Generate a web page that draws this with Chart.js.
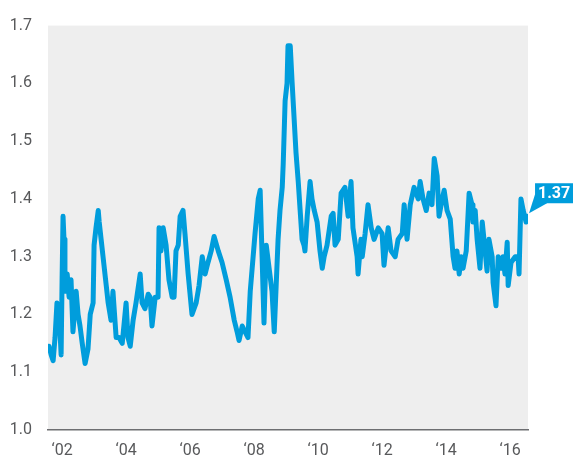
<!DOCTYPE html>
<html>
<head>
<meta charset="utf-8">
<script src="https://cdn.jsdelivr.net/npm/chart.js@4"></script>
<style>
  html, body { margin: 0; padding: 0; background: #fff; }
  #wrap { width: 573px; height: 459px; position: relative; }
</style>
</head>
<body>
<div id="wrap"><canvas id="myChart" width="573" height="459"></canvas></div>
<script>
// Data (decimal years / ratio)
const years = [
  2001.59, 2001.66, 2001.72, 2001.78, 2001.84, 2001.91, 2001.97, 2002.00, 2002.03, 2002.06,
  2002.09, 2002.16, 2002.22, 2002.28, 2002.34, 2002.44, 2002.50, 2002.56, 2002.63, 2002.72,
  2002.81, 2002.88, 2002.97, 2003.00, 2003.06, 2003.13, 2003.16, 2003.22, 2003.28, 2003.38,
  2003.44, 2003.53, 2003.59, 2003.69, 2003.78, 2003.88, 2004.00, 2004.06, 2004.13, 2004.22,
  2004.31, 2004.44, 2004.50, 2004.59, 2004.69, 2004.75, 2004.81, 2004.91, 2005.00, 2005.03,
  2005.09, 2005.16, 2005.25, 2005.34, 2005.44, 2005.50, 2005.56, 2005.63, 2005.69, 2005.78,
  2005.84, 2005.94, 2006.06, 2006.19, 2006.28, 2006.38, 2006.47, 2006.56, 2006.66, 2006.75,
  2006.88, 2007.00, 2007.13, 2007.25, 2007.38, 2007.47, 2007.53, 2007.63, 2007.72, 2007.81,
  2007.88, 2007.97, 2008.03, 2008.13, 2008.19, 2008.25, 2008.31, 2008.38, 2008.47, 2008.56,
  2008.63, 2008.69, 2008.75, 2008.81, 2008.88, 2008.91, 2008.97, 2009.03, 2009.06, 2009.13,
  2009.19, 2009.22, 2009.31, 2009.38, 2009.44, 2009.50, 2009.56, 2009.59, 2009.66, 2009.75,
  2009.81, 2009.88, 2009.97, 2010.06, 2010.13, 2010.19, 2010.28, 2010.41, 2010.47, 2010.53,
  2010.63, 2010.72, 2010.84, 2010.94, 2011.03, 2011.09, 2011.22, 2011.25, 2011.34, 2011.38,
  2011.47, 2011.56, 2011.66, 2011.75, 2011.88, 2012.00, 2012.06, 2012.19, 2012.28, 2012.41,
  2012.50, 2012.63, 2012.69, 2012.78, 2012.88, 2013.00, 2013.13, 2013.19, 2013.28, 2013.38,
  2013.47, 2013.56, 2013.63, 2013.72, 2013.78, 2013.88, 2013.94, 2014.03, 2014.13, 2014.22,
  2014.28, 2014.34, 2014.41, 2014.47, 2014.53, 2014.63, 2014.72, 2014.81, 2014.84, 2014.91,
  2014.97, 2015.06, 2015.13, 2015.22, 2015.28, 2015.34, 2015.44, 2015.47, 2015.56, 2015.63,
  2015.72, 2015.78, 2015.84, 2015.91, 2015.94, 2016.03, 2016.16, 2016.25, 2016.28, 2016.34,
  2016.41, 2016.50, 2016.53
]
const values = [
  1.145, 1.13, 1.12, 1.16, 1.22, 1.20, 1.13, 1.26, 1.37, 1.33,
  1.24, 1.27, 1.23, 1.26, 1.17, 1.24, 1.20, 1.18, 1.15, 1.115,
  1.14, 1.20, 1.22, 1.32, 1.35, 1.38, 1.36, 1.33, 1.30, 1.25,
  1.22, 1.19, 1.24, 1.16, 1.16, 1.15, 1.22, 1.16, 1.145, 1.19,
  1.22, 1.27, 1.22, 1.21, 1.235, 1.23, 1.18, 1.23, 1.23, 1.35,
  1.31, 1.35, 1.32, 1.26, 1.23, 1.23, 1.31, 1.32, 1.37, 1.38,
  1.34, 1.27, 1.20, 1.22, 1.25, 1.30, 1.27, 1.29, 1.31, 1.335,
  1.31, 1.29, 1.26, 1.23, 1.19, 1.17, 1.155, 1.18, 1.17, 1.16,
  1.24, 1.30, 1.34, 1.40, 1.415, 1.30, 1.185, 1.32, 1.28, 1.24,
  1.17, 1.25, 1.33, 1.38, 1.42, 1.46, 1.57, 1.60, 1.665, 1.665,
  1.60, 1.57, 1.48, 1.43, 1.38, 1.33, 1.32, 1.31, 1.37, 1.43,
  1.40, 1.38, 1.36, 1.31, 1.28, 1.30, 1.32, 1.37, 1.375, 1.32,
  1.33, 1.41, 1.42, 1.37, 1.43, 1.35, 1.30, 1.27, 1.33, 1.30,
  1.34, 1.39, 1.35, 1.33, 1.35, 1.34, 1.285, 1.35, 1.31, 1.30,
  1.33, 1.34, 1.39, 1.33, 1.39, 1.42, 1.40, 1.43, 1.40, 1.38,
  1.41, 1.39, 1.47, 1.44, 1.37, 1.40, 1.415, 1.38, 1.365, 1.30,
  1.28, 1.31, 1.27, 1.30, 1.28, 1.31, 1.41, 1.39, 1.36, 1.38,
  1.33, 1.28, 1.36, 1.31, 1.275, 1.33, 1.30, 1.255, 1.215, 1.30,
  1.28, 1.30, 1.27, 1.325, 1.25, 1.29, 1.30, 1.30, 1.27, 1.40,
  1.38, 1.36, 1.37
]
const yTicks = [1.0, 1.1, 1.2, 1.3, 1.4, 1.5, 1.6, 1.7]
const xTicks = [2002, 2004, 2006, 2008, 2010, 2012, 2014, 2016]
const lastLabel = '1.37'

const blue = '#009ddc'
const labelFont = { family: "'Liberation Sans Narrow', 'Roboto', sans-serif", size: 16 }

// gray panel behind the plot
const panelBg = {
    id: 'panelBg',
    beforeDraw(chart) {
        const { ctx, chartArea: a } = chart
        ctx.save()
        ctx.fillStyle = '#eeeeee'
        ctx.fillRect(a.left, a.top, a.right - a.left, a.bottom - a.top)
        ctx.restore()
    }
}

// value callout at the last point
const callout = {
    id: 'callout',
    afterDatasetsDraw(chart) {
        const { ctx } = chart
        const pts = chart.getDatasetMeta(0).data
        const p = pts[pts.length - 1]
        const bx = p.x + 8, by = p.y - 33, bw = 38, bh = 20
        ctx.save()
        ctx.fillStyle = blue
        ctx.beginPath()
        ctx.moveTo(p.x + 2, p.y - 3)
        ctx.lineTo(bx, by + bh - 9)
        ctx.lineTo(bx + 12, by + bh)
        ctx.closePath()
        ctx.fill()
        ctx.fillRect(bx, by, bw, bh)
        ctx.fillStyle = '#fff'
        ctx.font = "bold 16px 'Liberation Sans Narrow', 'Roboto', sans-serif"
        ctx.textAlign = 'center'
        ctx.textBaseline = 'middle'
        ctx.fillText(lastLabel, bx + bw / 2, by + bh / 2 + 1)
        ctx.restore()
    }
}

const ctx = document.getElementById('myChart')
const chart = new Chart(ctx, {
    type: 'line',
    data: {
        datasets: [{
            data: years.map((yr, i) => ({ x: yr, y: values[i] })),
            borderColor: blue,
            borderWidth: 5,
            pointRadius: 0,
            tension: 0,
            borderJoinStyle: 'round',
            borderCapStyle: 'round'
        }]
    },
    options: {
        responsive: false,
        animation: false,
        layout: { padding: { top: 22, right: 45, left: 0, bottom: 0 } },
        plugins: { legend: { display: false }, tooltip: { enabled: false } },
        scales: {
            x: {
                type: 'linear',
                min: 2001.56,
                max: 2016.56,
                afterBuildTicks: scale => { scale.ticks = xTicks.map(v => ({ value: v })) },
                afterFit: scale => { scale.height = 29 },
                grid: { display: false, drawTicks: false },
                border: { display: true, color: '#6d6e71', width: 1.5 },
                ticks: {
                    padding: 11,
                    color: '#58595b',
                    font: labelFont,
                    maxRotation: 0,
                    autoSkip: false,
                    callback: v => '\u2018' + String(v).slice(2)
                }
            },
            y: {
                min: 1.0,
                max: 1.7,
                afterBuildTicks: scale => { scale.ticks = yTicks.map(v => ({ value: v })) },
                afterFit: scale => { scale.width = 48 },
                grid: { display: false, drawTicks: false },
                border: { display: false },
                ticks: {
                    padding: 16,
                    color: '#58595b',
                    font: labelFont,
                    callback: v => v.toFixed(1)
                }
            }
        }
    },
    plugins: [panelBg, callout]
})
</script>
</body>
</html>
